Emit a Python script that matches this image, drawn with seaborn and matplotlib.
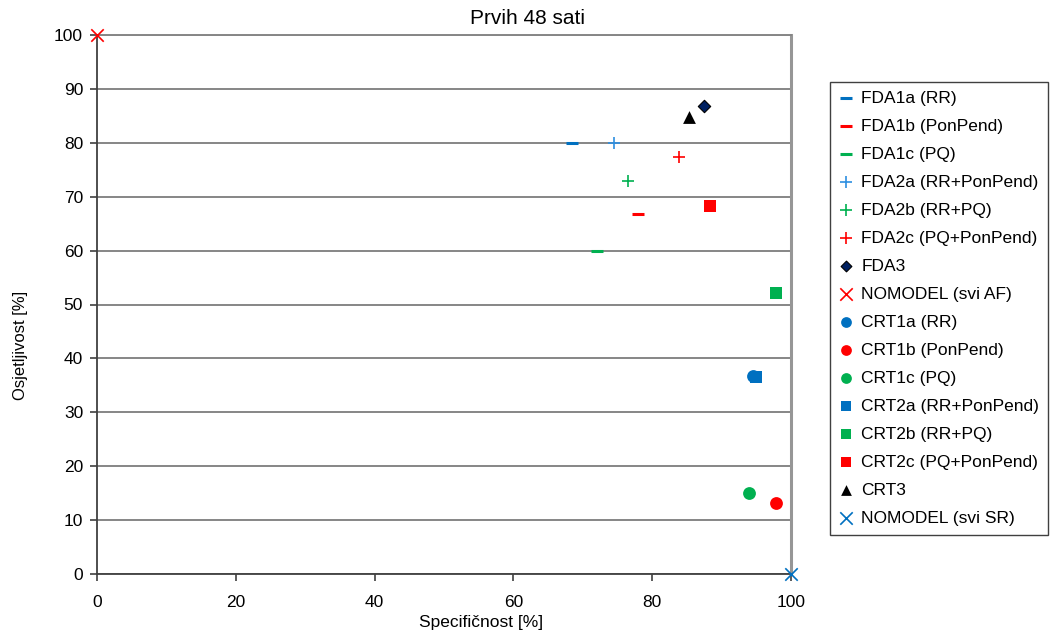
import numpy as np
import pandas as pd
import matplotlib
matplotlib.use("Agg")
import matplotlib.pyplot as plt
import seaborn as sns

# series names, specificity (x) and sensitivity (y)
labels = ["FDA1a (RR)", "FDA1b (PonPend)", "FDA1c (PQ)",
          "FDA2a (RR+PonPend)", "FDA2b (RR+PQ)", "FDA2c (PQ+PonPend)",
          "FDA3", "NOMODEL (svi AF)",
          "CRT1a (RR)", "CRT1b (PonPend)", "CRT1c (PQ)",
          "CRT2a (RR+PonPend)", "CRT2b (RR+PQ)", "CRT2c (PQ+PonPend)",
          "CRT3", "NOMODEL (svi SR)"]
specificity = [68.4, 78.0, 72.1, 74.5, 76.5, 83.9, 87.5, 0.0,
               94.5, 97.9, 94.0, 94.9, 97.8, 88.4, 85.3, 100.0]
sensitivity = [80.0, 66.7, 60.0, 80.0, 72.9, 77.3, 86.8, 100.0,
               36.7, 13.1, 15.0, 36.6, 52.1, 68.2, 84.7, 0.0]

blue = "#0070C0"
red = "#FF0000"
green = "#00B050"
colors = [blue, red, green, "#2E8FE0", green, red, "#002060", red,
          blue, red, green, blue, green, red, "black", blue]
markers = ["_", "_", "_", "+", "+", "+", "D", "x",
           "o", "o", "o", "s", "s", "s", "^", "x"]
sizes = [80, 80, 80, 65, 65, 65, 40, 80,
         85, 85, 85, 85, 85, 85, 85, 80]
widths = [2.2, 2.2, 2.2, 1.2, 1.2, 1.2, 0.8, 1.2,
          0, 0, 0, 0, 0, 0, 0, 1.2]

df = pd.DataFrame({"model": labels, "spec": specificity, "sens": sensitivity})

plt.rcParams["font.family"] = ["Liberation Sans", "DejaVu Sans"]
fig = plt.figure(figsize=(10.51, 6.39), dpi=100)
ax = fig.add_axes([97 / 1051, 65 / 639, 694 / 1051, 539 / 639])

for i, row in df.iterrows():
    if markers[i] in ["_", "+", "x"]:
        sns.scatterplot(x=[row.spec], y=[row.sens], ax=ax, marker=markers[i],
                        color=colors[i], s=sizes[i], linewidth=widths[i],
                        label=row.model, clip_on=False, zorder=5)
    else:
        edge = "black" if markers[i] == "D" else colors[i]
        sns.scatterplot(x=[row.spec], y=[row.sens], ax=ax, marker=markers[i],
                        color=colors[i], s=sizes[i], linewidth=widths[i],
                        edgecolor=edge, label=row.model, clip_on=False, zorder=5)

ax.set_xlim(0, 100)
ax.set_ylim(0, 100)
ax.set_xticks(np.arange(0, 101, 20))
ax.set_yticks(np.arange(0, 101, 10))
ax.yaxis.grid(True, color="#868686", linewidth=1.4)
ax.xaxis.grid(False)
ax.set_axisbelow(True)
for side in ["left", "bottom"]:
    ax.spines[side].set_color("#404040")
    ax.spines[side].set_linewidth(1.3)
ax.spines["top"].set_color("#868686")
ax.spines["top"].set_linewidth(1.4)
ax.spines["right"].set_color("#969696")
ax.spines["right"].set_linewidth(2.2)
ax.tick_params(axis="both", direction="out", length=5, width=1.2,
               color="#404040", labelsize=12.5, labelcolor="black")
ax.tick_params(axis="x", pad=10)
ax.tick_params(axis="y", pad=5)

fig.suptitle("Prvih 48 sati", x=527 / 1051, y=1 - 19 / 639, va="center",
             fontsize=15)
ax.set_xlabel("Specifičnost [%]", fontsize=12.5, va="center")
ax.xaxis.set_label_coords((481 - 97) / 694, (574 - 623) / 539)
ax.set_ylabel("Osjetljivost [%]", fontsize=12, va="center")
ax.yaxis.set_label_coords((21 - 97) / 694, (574 - 345) / 539)

handles, names = ax.get_legend_handles_labels()
ax.legend_.remove()
leg = fig.legend(handles, names, loc="upper left",
                 bbox_to_anchor=(830 / 1051, 1 - 82 / 639),
                 fontsize=12.5, frameon=True, fancybox=False,
                 edgecolor="#404040", framealpha=1, borderpad=0.5,
                 labelspacing=0.74, handlelength=0.8, handletextpad=0.5,
                 borderaxespad=0)
leg.get_frame().set_linewidth(1.0)
# filled markers are drawn a bit smaller in the legend
for h, m in zip(leg.legend_handles, markers):
    if m in ["o", "s", "^"]:
        h.set_sizes([60])
    elif m == "D":
        h.set_sizes([30])

fig.savefig("out.png", dpi=100)
